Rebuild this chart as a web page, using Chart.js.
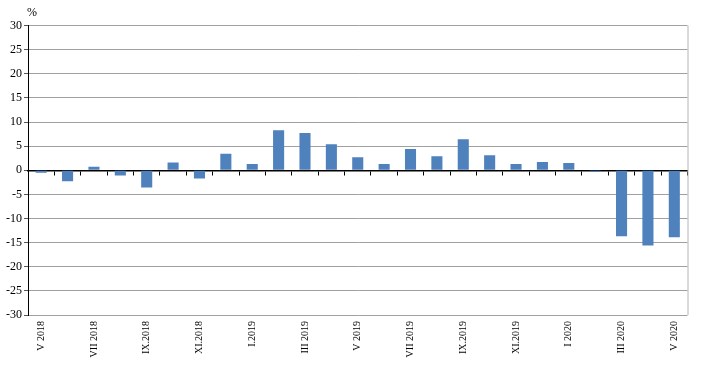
<!DOCTYPE html>
<html>
<head>
<meta charset="utf-8">
<script src="https://cdn.jsdelivr.net/npm/chart.js@4.4.1/dist/chart.umd.min.js"></script>
<style>
  html, body { margin: 0; padding: 0; background: #fff; }
</style>
</head>
<body>
<canvas id="chart" width="711" height="368"></canvas>
<script>
// Months, May 2018 - May 2020
const months = ['V 2018', 'VI 2018', 'VII 2018', 'VIII 2018', 'IX.2018', 'X 2018', 'XI.2018', 'XII 2018',
    'I.2019', 'II 2019', 'III 2019', 'IV 2019', 'V 2019', 'VI 2019', 'VII 2019', 'VIII 2019',
    'IX.2019', 'X 2019', 'XI.2019', 'XII 2019', 'I 2020', 'II 2020', 'III 2020', 'IV 2020', 'V 2020'];

// % change
const changes = [-0.5, -2.3, 0.7, -1.1, -3.6, 1.6, -1.7, 3.4,
    1.3, 8.3, 7.7, 5.4, 2.7, 1.3, 4.4, 2.9,
    6.4, 3.1, 1.3, 1.7, 1.5, -0.3, -13.7, -15.6, -13.9];

// only every second month is labelled
const shownLabels = months.map((m, i) => (i % 2 === 0 ? m : ''));

const yMin = -30;
const yMax = 30;
const yStep = 5;

const serif = "'Liberation Serif', 'Times New Roman', serif";

// percent sign over the axis + light frame line on the right
const extras = {
    id: 'extras',
    afterDraw(chart) {
        const { ctx, chartArea } = chart;
        ctx.save();
        ctx.strokeStyle = '#b4b4b4';
        ctx.lineWidth = 1;
        ctx.beginPath();
        ctx.moveTo(chartArea.right + 0.5, chartArea.top);
        ctx.lineTo(chartArea.right + 0.5, chartArea.bottom);
        ctx.stroke();

        ctx.fillStyle = '#000';
        ctx.font = '12px ' + serif;
        ctx.textAlign = 'left';
        ctx.textBaseline = 'alphabetic';
        ctx.fillText('%', chartArea.left - 1, chartArea.top - 10);
        ctx.restore();
    }
};

const chart = new Chart(document.getElementById('chart').getContext('2d'), {
    type: 'bar',
    data: {
        labels: months,
        datasets: [{
            data: changes,
            backgroundColor: '#4f81bd',
            borderWidth: 0,
            barPercentage: 0.42,
            categoryPercentage: 1,
            xAxisID: 'x',
            yAxisID: 'y'
        }]
    },
    options: {
        responsive: false,
        animation: false,
        layout: {
            padding: { top: 25.5, right: 23.5, left: 0, bottom: 0 }
        },
        plugins: {
            legend: { display: false },
            tooltip: { enabled: false }
        },
        scales: {
            x: {
                position: 'bottom',
                offset: true,
                grid: { display: false, drawTicks: false },
                border: { display: false },
                ticks: {
                    autoSkip: false,
                    minRotation: 90,
                    maxRotation: 90,
                    padding: 6,
                    color: '#000',
                    font: { family: serif, size: 10 },
                    callback: (val, i) => shownLabels[i]
                },
                afterFit: (scale) => { scale.height = 53; }
            },
            // zero line with its little tick marks between months
            x0: {
                type: 'category',
                position: { y: 0 },
                offset: true,
                grid: {
                    offset: true,
                    drawOnChartArea: false,
                    tickLength: 4,
                    color: '#000'
                },
                border: { color: '#000', width: 1.5 },
                ticks: { display: false }
            },
            y: {
                min: yMin,
                max: yMax,
                ticks: {
                    stepSize: yStep,
                    padding: 2,
                    color: '#000',
                    font: { family: serif, size: 12 }
                },
                grid: {
                    color: (c) => (c.tick && c.tick.value === 0 ? '#000' : '#a0a0a0'),
                    tickColor: '#555',
                    tickLength: 4
                },
                border: { color: '#000', width: 1 },
                afterFit: (scale) => { scale.width = 28; }
            }
        }
    },
    plugins: [extras]
});
</script>
</body>
</html>
